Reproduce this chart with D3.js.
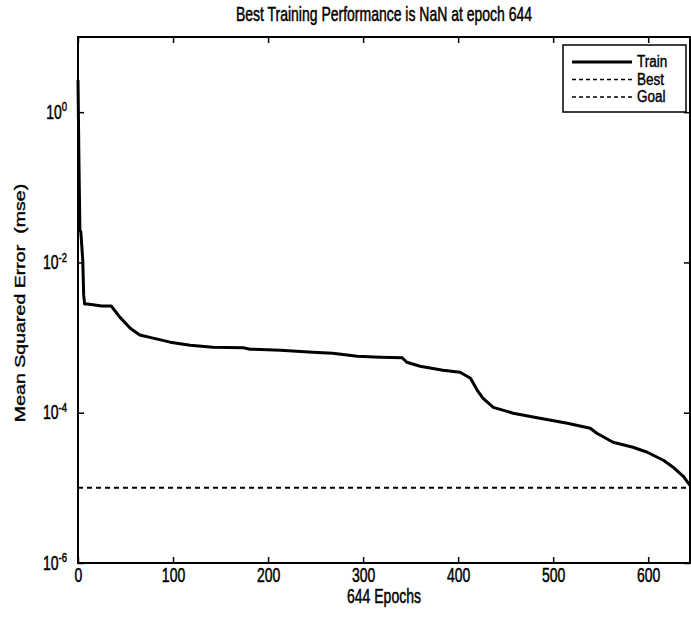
<!DOCTYPE html>
<html>
<head>
<meta charset="utf-8">
<script src="https://cdn.jsdelivr.net/npm/d3@7"></script>
<style>
  body { margin: 0; background: #fff; }
  text { font-family: "Liberation Sans", Arial, sans-serif; fill: #000; stroke: #000; stroke-width: 0.35px; }
</style>
</head>
<body>
<div id="chart"></div>
<script>
// data ///////////////////////////
var epochs = [0, 1, 2, 3, 5, 6, 7, 10, 25, 35,
              44, 55, 65, 79, 97, 118, 142, 174, 181, 213,
              247, 268, 294, 318, 341, 346, 360, 384, 402, 413,
              420, 426, 437, 458, 486, 515, 539, 546, 563, 584,
              599, 616, 627, 637, 644];
var trainMse = [2.67, 0.217, 0.027, 0.0253, 0.0107, 0.00367, 0.00279, 0.00279, 0.00263, 0.00263,
                0.00187, 0.00133, 0.00108, 0.000982, 0.000869, 0.000792, 0.000745, 0.00073, 0.000701, 0.00068,
                0.000639, 0.00062, 0.000565, 0.000548, 0.00054, 0.00047, 0.000416, 0.000368, 0.000346, 0.000288,
                0.0002, 0.000156, 0.000118, 0.0000984, 0.0000845, 0.0000725, 0.0000622, 0.0000533, 0.0000405, 0.0000347,
                0.0000298, 0.0000233, 0.0000185, 0.0000142, 0.0000108];
var goal = 1e-5;
var xTicks = [0, 100, 200, 300, 400, 500, 600];
var yTicks = [1e0, 1e-2, 1e-4, 1e-6];
var yExponents = ["0", "-2", "-4", "-6"];
var legendNames = ["Train", "Best", "Goal"];

//setup///////////////////////////
var W = 691, H = 621;
var margin = {top: 37, right: 1, bottom: 58, left: 78};
var width = W - margin.left - margin.right;
var height = H - margin.top - margin.bottom;
var stretch = 1.4; // scanned text is taller than it is wide

var svg = d3.select('#chart')
    .append('svg')
    .attr('width', W)
    .attr('height', H);

var g = svg.append('g')
    .attr('transform', 'translate(' + margin.left + ',' + margin.top + ')');

var x = d3.scaleLinear().domain([0, 644]).range([0, width]);
var y = d3.scaleLog().domain([1e-6, 1e1]).range([height, 0]);

//axes (ticks point inward)
var bottomAxis = g.append('g')
    .attr('transform', 'translate(0,' + height + ')')
    .call(d3.axisBottom(x).tickValues(xTicks).tickSizeInner(-6).tickSizeOuter(0));
bottomAxis.selectAll('.tick text')
    .attr('y', null).attr('dy', null)
    .attr('transform', 'translate(0,19) scale(1,' + stretch + ')')
    .style('font-size', '14px');

g.append('g')
    .call(d3.axisTop(x).tickValues(xTicks).tickSizeInner(-6).tickSizeOuter(0).tickFormat(''));

g.append('g')
    .attr('transform', 'translate(' + width + ',0)')
    .call(d3.axisRight(y).tickValues(yTicks).tickSizeInner(-6).tickSizeOuter(0).tickFormat(''));

var leftAxis = g.append('g')
    .call(d3.axisLeft(y).tickValues(yTicks).tickSizeInner(-6).tickSizeOuter(0).tickFormat(''));
leftAxis.selectAll('.tick text').each(function(d, i) {
    var t = d3.select(this)
        .attr('x', null).attr('dy', null)
        .attr('transform', 'translate(-11,6) scale(1,' + stretch + ')')
        .style('font-size', '14px')
        .attr('text-anchor', 'end');
    t.append('tspan').text('10');
    t.append('tspan').attr('dy', '-0.55em').style('font-size', '9.5px').text(yExponents[i]);
});

g.selectAll('.domain').remove();
g.selectAll('.tick line').attr('stroke', '#000').attr('stroke-width', 1.5);

g.append('rect')
    .attr('width', width).attr('height', height)
    .attr('fill', 'none').attr('stroke', '#000').attr('stroke-width', 2);

//goal line
g.append('line')
    .attr('x1', x(0)).attr('x2', x(644))
    .attr('y1', y(goal)).attr('y2', y(goal))
    .attr('stroke', '#000').attr('stroke-width', 2)
    .attr('stroke-dasharray', '5,4');

//train curve
var line = d3.line()
    .x(function(d, i) { return x(epochs[i]); })
    .y(function(d) { return y(d); });

g.append('path')
    .datum(trainMse)
    .attr('d', line)
    .attr('fill', 'none')
    .attr('stroke', '#000')
    .attr('stroke-width', 3)
    .attr('stroke-linejoin', 'round');

//titles
svg.append('text')
    .attr('transform', 'translate(384,21) scale(1,' + stretch + ')')
    .attr('text-anchor', 'middle')
    .style('font-size', '14px')
    .text('Best Training Performance is NaN at epoch 644');

svg.append('text')
    .attr('transform', 'translate(384,603) scale(1,' + stretch + ')')
    .attr('text-anchor', 'middle')
    .style('font-size', '14px')
    .text('644 Epochs');

svg.append('text')
    .attr('transform', 'translate(25,303) scale(1,' + stretch + ') rotate(-90)')
    .attr('text-anchor', 'middle')
    .style('font-size', '14px')
    .style('white-space', 'pre')
    .text('Mean Squared Error  (mse)');

//legend
var lg = svg.append('g').attr('transform', 'translate(563,45)');
lg.append('rect')
    .attr('width', 123).attr('height', 67)
    .attr('fill', '#fff').attr('stroke', '#000').attr('stroke-width', 1.5);

var rows = lg.selectAll('.row')
    .data(legendNames)
    .enter()
    .append('g')
    .attr('transform', function(d, i) { return 'translate(0,' + (17 + i * 17.5) + ')'; });

rows.append('line')
    .attr('x1', 9).attr('x2', 69)
    .attr('stroke', '#000')
    .attr('stroke-width', function(d) { return d === 'Train' ? 3 : 1.5; })
    .attr('stroke-dasharray', function(d) { return d === 'Train' ? null : '4,3'; });

rows.append('text')
    .attr('transform', 'translate(74,5) scale(1,1.2)')
    .style('font-size', '13.5px')
    .text(function(d) { return d; });
</script>
</body>
</html>
